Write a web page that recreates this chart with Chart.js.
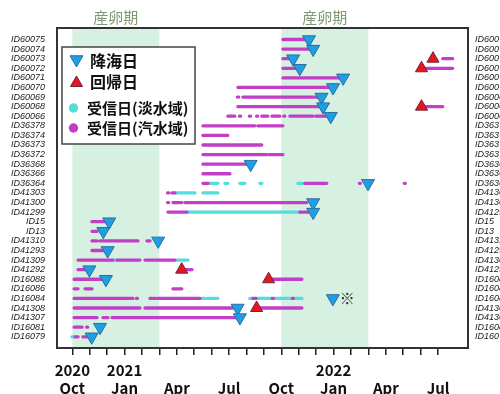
<!DOCTYPE html>
<html><head><meta charset="utf-8">
<script src="https://cdn.jsdelivr.net/npm/chart.js@4/dist/chart.umd.min.js"></script>
<style>html,body{margin:0;padding:0;overflow:hidden;background:#fff;width:500px;height:394px}canvas{display:block}</style>
</head><body>
<canvas id="c" width="540" height="394"></canvas>
<script>
// Row labels (top to bottom)
const rowLabels = ['ID60075','ID60074','ID60073','ID60072','ID60071','ID60070','ID60069','ID60068','ID60066',
  'ID36378','ID36374','ID36373','ID36372','ID36368','ID36366','ID36364','ID41303','ID41300','ID41299',
  'ID15','ID13','ID41310','ID41293','ID41309','ID41292','ID16088','ID16086','ID16084','ID41308','ID41307','ID16081','ID16079'];

// x values are months counted from 2020-10-01 (0 = Oct 2020)
const monthTicks = [0,1,2,3,4,5,6,7,8,9,10,11,12,13,14,15,16,17,18,19,20,21];
const labelMonths = [0,3,6,9,12,15,18,21];
const monthLabels = [['2020','Oct'],['2021','Jan'],['','Apr'],['','Jul'],['','Oct'],['2022','Jan'],['','Apr'],['','Jul']];

const spawnPeriods = [[0,5],[12,17]];
const spawnLabel = '産卵期';

// Reception days, brackish water: [row, start, end]
const brackish = [
  [0,12.09,13.45],[1,12.09,13.64],
  [2,12.09,12.49],[2,21.27,21.84],
  [3,12.09,12.87],[3,20.24,21.84],
  [4,12.09,15.36],
  [5,9.51,14.88],
  [6,9.48,9.55],[6,9.79,14.21],
  [7,9.51,14.21],[7,20.24,21.27],
  [8,8.93,9.33],[8,9.60,9.66],[8,10.17,10.23],[8,10.58,10.64],[8,10.88,11.23],[8,11.46,11.92],[8,12.14,12.2],[8,12.49,13.81],[8,13.98,14.61],
  [9,7.5,10.48],[9,10.66,12.09],
  [10,7.5,8.93],
  [11,7.5,10.88],
  [12,7.5,11.17],[12,11.34,12.09],
  [13,7.5,10.02],
  [14,7.5,9.05],
  [15,7.5,7.79],[15,13.35,14.61],[15,16.48,16.54],[15,19.06,19.12],
  [16,5.47,5.53],[16,5.72,5.89],
  [17,5.47,5.53],[17,5.78,6.29],[17,6.47,13.45],
  [18,5.49,6.58],[18,13.06,13.64],
  [19,1.13,1.88],
  [20,1.13,1.42],
  [21,1.13,1.42],[21,1.59,3.77],[21,4.29,4.46],
  [22,1.13,1.88],
  [23,0.33,2.33],[23,2.56,3.88],[23,4.17,5.89],
  [24,0.33,0.84],[24,6.35,6.87],
  [25,0.10,1.70],[25,11.35,13.18],
  [26,0.10,0.33],[26,0.73,1.13],[26,5.78,6.29],
  [27,0.10,3.48],[27,3.68,3.74],[27,4.46,4.55],[27,4.65,4.75],[27,4.85,7.33],[27,10.37,10.55],[27,11.48,11.54],[27,12.63,12.69],
  [28,0.10,3.88],[28,4.17,9.22],[28,10.65,13.18],
  [29,0.10,1.42],[29,1.76,2.05],[29,2.28,9.45],
  [30,0.10,0.56],[30,0.82,0.88],
  [31,0.15,0.33],[31,0.61,0.84]
];

// Reception days, fresh water: [row, start, end]
const fresh = [
  [12,11.17,11.34],
  [15,7.79,8.36],[15,8.76,8.93],[15,9.62,9.91],[15,10.77,10.88],[15,12.95,13.24],
  [16,5.89,7.04],[16,7.5,8.36],
  [18,6.58,13.06],
  [23,2.33,2.56],[23,6.01,6.64],
  [27,7.44,7.6],[27,7.75,8.0],[27,8.1,8.36],[27,10.19,10.35],[27,10.6,11.46],[27,11.58,12.6],[27,12.72,13.18],
  [31,-0.02,0.15]
];

// Seaward migration days: [row, month]
const descent = [[0,13.59],[1,13.83],[2,12.68],[3,13.06],[4,15.55],[5,14.97],[6,14.31],[7,14.40],[8,14.84],
  [13,10.24],[15,16.98],[17,13.83],[18,13.83],[19,2.12],[20,1.78],[21,4.93],[22,2.03],[24,0.98],[25,1.93],
  [27,14.96],[28,9.49],[29,9.62],[30,1.59],[31,1.11]];

// Return days: [row, month]
const returns = [[2,20.71],[3,20.05],[7,20.05],[24,6.28],[25,11.27],[28,10.58]];

const notes = [[27,14.96,'※']];

const legendLabels = ['降海日','回帰日','受信日(淡水域)','受信日(汽水域)'];

const C_BLUE = '#1f9fe3', C_RED = '#e8141e', C_CYAN = '#52dedb', C_MAG = '#c33ec6';
const JP = '"Noto Sans CJK JP", "Noto Sans", sans-serif';

function segPoints(segs){
  const pts = [];
  segs.forEach(([r,s,e]) => { pts.push({x:s,y:r},{x:e,y:r},{x:e,y:null}); });
  return pts;
}

const bandsPlugin = {
  id:'bands',
  beforeDatasetsDraw(chart){
    const {ctx, chartArea:a, scales:{x}} = chart;
    ctx.save();
    spawnPeriods.forEach(([s,e]) => {
      const x0 = x.getPixelForValue(s), x1 = x.getPixelForValue(e);
      ctx.fillStyle = '#d6f0e1';
      ctx.fillRect(x0, a.top, x1-x0, a.bottom-a.top);
      ctx.fillStyle = '#7d9872';
      ctx.font = '15px ' + JP;
      ctx.textAlign = 'center'; ctx.textBaseline = 'middle';
      ctx.fillText(spawnLabel, (x0+x1)/2, a.top - 11);
    });
    ctx.restore();
  }
};

function tri(ctx, cx, cy, r, down, fill, stroke){
  ctx.beginPath();
  const s = down ? -1 : 1;
  ctx.moveTo(cx, cy - s*r);
  ctx.lineTo(cx + r*Math.sqrt(3)/2, cy + s*r/2);
  ctx.lineTo(cx - r*Math.sqrt(3)/2, cy + s*r/2);
  ctx.closePath();
  ctx.fillStyle = fill; ctx.fill();
  ctx.strokeStyle = stroke; ctx.lineWidth = 1; ctx.stroke();
}

const overlayPlugin = {
  id:'overlay',
  afterDatasetsDraw(chart){
    const {ctx, chartArea:a, scales:{x,y}} = chart;
    ctx.save();
    // notes
    ctx.fillStyle = '#333'; ctx.font = '15px ' + JP;
    ctx.textAlign = 'left'; ctx.textBaseline = 'middle';
    notes.forEach(([r,m,t]) => ctx.fillText(t, x.getPixelForValue(m)+7, y.getPixelForValue(r)));
    // legend
    const bx = a.left + 5, by = a.top + 19, bw = 133, bh = 97;
    ctx.fillStyle = '#fff'; ctx.fillRect(bx,by,bw,bh);
    ctx.strokeStyle = '#444'; ctx.lineWidth = 1.5; ctx.strokeRect(bx,by,bw,bh);
    ctx.font = 'bold 16px ' + JP; ctx.fillStyle = '#111';
    tri(ctx, bx+14.5, by+12.5, 7.5, true, C_BLUE, '#2a6f9e');
    ctx.fillStyle = '#111'; ctx.fillText(legendLabels[0], bx+28, by+14);
    tri(ctx, bx+14.5, by+36, 7, false, C_RED, '#6b2a3a');
    ctx.fillStyle = '#111'; ctx.fillText(legendLabels[1], bx+28, by+35);
    ctx.font = 'bold 15px ' + JP;
    ctx.beginPath(); ctx.arc(bx+11.5, by+61, 4.7, 0, Math.PI*2); ctx.fillStyle = C_CYAN; ctx.fill();
    ctx.fillStyle = '#111'; ctx.fillText(legendLabels[2], bx+25, by+61);
    ctx.beginPath(); ctx.arc(bx+11.5, by+81, 4.7, 0, Math.PI*2); ctx.fillStyle = C_MAG; ctx.fill();
    ctx.fillStyle = '#111'; ctx.fillText(legendLabels[3], bx+25, by+81);
    ctx.restore();
  },
  afterDraw(chart){
    const {ctx, chartArea:a} = chart;
    ctx.save();
    ctx.strokeStyle = '#333'; ctx.lineWidth = 2;
    ctx.strokeRect(a.left, a.top, a.right-a.left, a.bottom-a.top);
    ctx.restore();
  }
};

const rowAxis = (pos, pad, width) => ({
  type:'linear', position:pos, reverse:true, min:-1.2, max:32.17,
  afterBuildTicks: s => { s.ticks = rowLabels.map((_,i)=>({value:i})); },
  ticks:{ autoSkip:false, padding:pad, color:'#1a1a1a', font:{family:'"Liberation Sans", Arial, sans-serif', size:9, style:'italic'},
    callback: v => rowLabels[v] },
  grid:{ drawOnChartArea:false, drawTicks:false, display:false },
  border:{ display:false },
  afterFit: s => { s.width = width; }
});

new Chart(document.getElementById('c'), {
  type:'scatter',
  data:{ datasets:[
    { label:'降海日', data: descent.map(([r,m])=>({x:m,y:r})), pointStyle:'triangle', rotation:180,
      pointRadius:7.5, backgroundColor:C_BLUE, borderColor:'#2a6f9e', borderWidth:1, order:0 },
    { label:'回帰日', data: returns.map(([r,m])=>({x:m,y:r})), pointStyle:'triangle', rotation:0,
      pointRadius:7, backgroundColor:C_RED, borderColor:'#6b2a3a', borderWidth:1, order:0 },
    { label:'受信日(淡水域)', data: segPoints(fresh), showLine:true, spanGaps:false, pointRadius:0,
      borderColor:C_CYAN, borderWidth:3.3, borderCapStyle:'round', order:2 },
    { label:'受信日(汽水域)', data: segPoints(brackish), showLine:true, spanGaps:false, pointRadius:0,
      borderColor:C_MAG, borderWidth:3.3, borderCapStyle:'round', order:1 }
  ]},
  options:{
    responsive:false, animation:false, devicePixelRatio:1, events:[],
    layout:{ padding:{ top:28, left:0, right:0, bottom:0 } },
    plugins:{ legend:{display:false}, tooltip:{enabled:false} },
    scales:{
      x:{ type:'linear', position:'bottom', min:-0.88, max:22.72,
        afterBuildTicks: s => { s.ticks = monthTicks.map(v=>({value:v})); },
        ticks:{ autoSkip:false, maxRotation:0, padding:7, color:'#111',
          font:{ family:JP, size:15, weight:'bold', lineHeight:1.15 },
          callback: v => { const i = labelMonths.indexOf(v); return i >= 0 ? monthLabels[i] : ''; } },
        grid:{ drawOnChartArea:false, drawTicks:true, tickLength:7, color:'#222', lineWidth:1.5 },
        border:{ display:false },
        afterFit: s => { s.height = 46; } },
      y: rowAxis('left', 12, 57),
      y2: rowAxis('right', 7, 72)
    }
  },
  plugins:[bandsPlugin, overlayPlugin]
});
</script>
</body></html>
